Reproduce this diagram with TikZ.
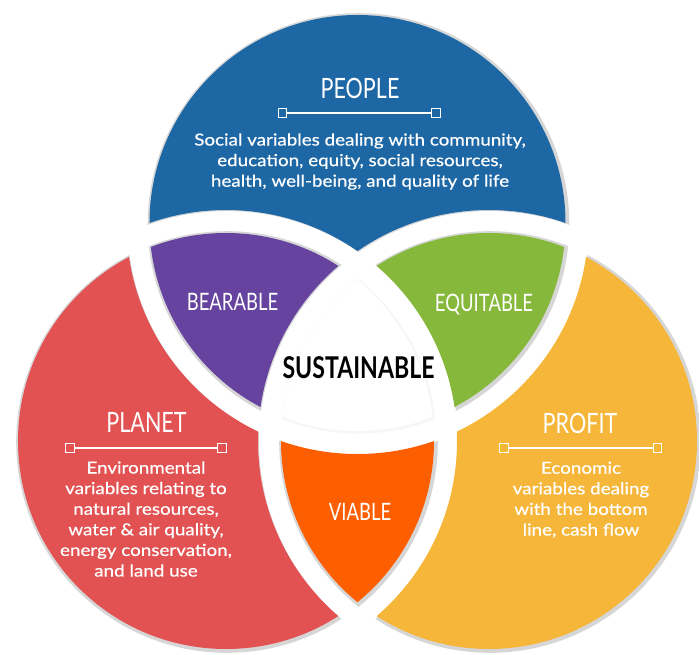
\documentclass[tikz,border=0pt]{standalone}
\usepackage{fontspec}
\setmainfont{Lato}
\newfontfamily\titlefont[FakeStretch=0.77]{Lato}
\newfontfamily\bodyfont[FakeStretch=1.14,FakeBold=0.5]{Lato}
\definecolor{cblue}{HTML}{1D67A5}
\definecolor{cred}{HTML}{E35252}
\definecolor{cyel}{HTML}{F5B63A}
\definecolor{cpur}{HTML}{65439E}
\definecolor{cgrn}{HTML}{86B83C}
\definecolor{cvia}{HTML}{FD5E00}
\definecolor{cshad}{HTML}{D6D6D6}
\definecolor{cshadc}{HTML}{F6F6F6}
\def\Bx{357.5}\def\By{223}
\def\Rx{226}\def\Ry{441}
\def\Ox{489}\def\Oy{441}
\def\dd{0pt}
\newcommand\clipi[2]{\clip (#1,#2) circle[radius={208pt+\dd}];}
\newcommand\clipo[2]{\clip (-400,-400) rectangle (1100,1100) (#1,#2) circle[radius=231pt];}
\newcommand\rgn[4]{\begin{scope}[even odd rule]\csname clip#1\endcsname{\Bx}{\By}\csname clip#2\endcsname{\Rx}{\Ry}\csname clip#3\endcsname{\Ox}{\Oy}\fill[#4] (-400,-400) rectangle (1100,1100);\end{scope}}
\begin{document}
\begin{tikzpicture}[x=1pt,y=-1pt,
  ttl/.style={text=white,inner sep=0pt,font=\titlefont\fontsize{28}{30}\selectfont},
  sml/.style={text=white,inner sep=0pt,font=\titlefont\fontsize{24}{26}\selectfont},
  body/.style={text=white,inner sep=0pt,align=center,font=\bodyfont\fontsize{16.5}{20.6}\selectfont},
  sqbox/.style={draw=white,line width=1.2pt,minimum size=8.5pt,inner sep=0pt},
  bar/.style={draw=white,line width=1.2pt}]
\path[use as bounding box,fill=white] (0,0) rectangle (699,654);
% shadows
\begin{scope}[shift={(1,1)}]
\def\dd{2.8pt}
\rgn{i}{o}{o}{cshad}
\rgn{o}{i}{o}{cshad}
\rgn{o}{o}{i}{cshad}
\rgn{i}{i}{o}{cshad}
\rgn{i}{o}{i}{cshad}
\rgn{o}{i}{i}{cshad}
\def\dd{1.5pt}
\rgn{i}{i}{i}{cshadc}
\end{scope}
% regions
\rgn{i}{o}{o}{cblue}
\rgn{o}{i}{o}{cred}
\rgn{o}{o}{i}{cyel}
\rgn{i}{i}{o}{cpur}
\rgn{i}{o}{i}{cgrn}
\rgn{o}{i}{i}{cvia}
\rgn{i}{i}{i}{white}
% titles
\node[ttl,anchor=base] (tpeople) at (360,98) {PEOPLE};
\node[ttl,anchor=base] (tplanet) at (146.5,432) {PLANET};
\node[ttl,anchor=base] (tprofit) at (580,433) {PROFIT};
\node[sml,anchor=base] (tbear) at (232.5,310) {BEARABLE};
\node[sml,anchor=base] (tequi) at (484,311) {EQUITABLE};
\node[sml,anchor=base] (tvia) at (360,520) {VIABLE};
\node[anchor=base,inner sep=0pt,text=black,font=\titlefont\bfseries\fontsize{30}{32}\selectfont] (tsus) at (358.5,378) {SUSTAINABLE};
% bars
\node[sqbox] (pa) at (282.5,113) {};
\node[sqbox] (pb) at (436,113) {};
\draw[bar] (pa) -- (pb);
\node[sqbox] (la) at (70,448) {};
\node[sqbox] (lb) at (222,448) {};
\draw[bar] (la) -- (lb);
\node[sqbox] (ra) at (504,448) {};
\node[sqbox] (rb) at (657.5,448) {};
\draw[bar] (ra) -- (rb);
% bodies (anchor base = last line)
\node[body,anchor=base] (bpeople) at (360,186.7) {Social variables dealing with community,\\education, equity, social resources,\\health, well-being, and quality of life};
\node[body,anchor=base] (bplanet) at (146,576.5) {Environmental\\variables relating to\\natural resources,\\water \& air quality,\\energy conservation,\\and land use};
\node[body,anchor=base] (bprofit) at (581,535.5) {Economic\\variables dealing\\with the bottom\\line, cash flow};
\end{tikzpicture}
\end{document}
